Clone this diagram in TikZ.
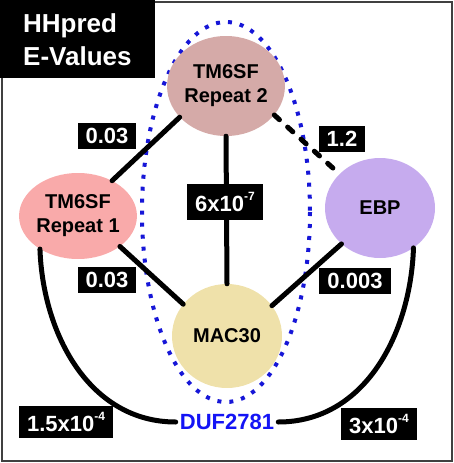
\documentclass[tikz,border=0pt]{standalone}
\usepackage{fontspec}
\setmainfont{Liberation Sans}
\usetikzlibrary{shapes.geometric}
\definecolor{rpone}{RGB}{249,170,170}
\definecolor{rptwo}{RGB}{213,170,168}
\definecolor{ebpcol}{RGB}{198,171,238}
\definecolor{maccol}{RGB}{239,225,170}
\definecolor{dotblue}{RGB}{22,22,215}
\definecolor{dufblue}{RGB}{20,20,245}
\newcommand{\sups}[1]{\raisebox{11pt}{\fontsize{12}{12}\selectfont #1}}

\begin{document}
\begin{tikzpicture}[x=1pt,y=-1pt,
  prot/.style={ellipse,inner sep=0pt,minimum width=110pt,minimum height=100pt,align=center,font=\bfseries\fontsize{20}{24}\selectfont},
  edge/.style={line width=5pt,line cap=round},
  evalue/.style={fill=black,text=white,inner xsep=8pt,inner ysep=5pt,font=\bfseries\fontsize{22}{22}\selectfont}]
\useasboundingbox (0,0) rectangle (454,463);
\draw[black!75,line width=2pt] (1.5,1.5) rectangle (451.5,460.5);
\draw[dotblue,line width=4pt,dash pattern=on 4pt off 8pt] (226,212) ellipse [x radius=84, y radius=190];
\node[prot,fill=rptwo] (r2) at (226,86) {TM6SF\\Repeat 2};
\node[prot,fill=rpone,minimum height=86pt] (r1) at (78,216) {TM6SF\\Repeat 1};
\node[prot,fill=ebpcol] (ebp) at (380,208) {EBP};
\node[prot,fill=maccol,minimum height=104pt] (mac) at (227,336) {MAC30};
\node[text=dufblue,font=\bfseries\fontsize{22}{22}\selectfont,inner sep=4pt] (duf) at (227,422) {DUF2781};
\draw[edge] (r2.214) -- (r1.46);
\draw[edge] (r2.south) -- (mac.north);
\draw[edge,dash pattern=on 7pt off 11pt] (r2.-31) -- (ebp.140);
\draw[edge] (r1.-36) -- (mac.144);
\draw[edge] (ebp.223) -- (mac.34);
\draw[edge] (r1.221) to[out=-88,in=180] (duf.west);
\draw[edge] (ebp.-50) to[out=-92,in=0] (duf.east);
\node[evalue] (e1) at (107,136) {0.03};
\node[evalue,inner ysep=8pt] (e2) at (225,202) {6x10\sups{-7}};
\node[evalue] (e3) at (342,139) {1.2};
\node[evalue] (e4) at (107,280) {0.03};
\node[evalue] (e5) at (355,281) {0.003};
\node[evalue,inner ysep=6pt] (e6) at (66,422) {1.5x10\sups{-4}};
\node[evalue,inner ysep=6pt] (e7) at (379,424) {3x10\sups{-4}};
\fill[black] (0,0) rectangle (155,78);
\node[text=white,anchor=north west,inner sep=0pt,align=left,font=\bfseries\fontsize{26}{33}\selectfont] (title) at (23,13) {HHpred\\E-Values};
\end{tikzpicture}
\end{document}
